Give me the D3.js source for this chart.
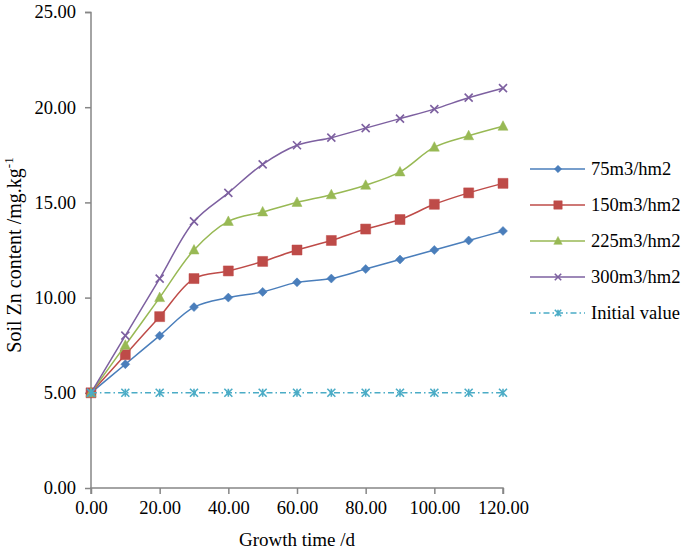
<!DOCTYPE html>
<html><head><meta charset="utf-8">
<script src="https://cdn.jsdelivr.net/npm/d3@7"></script>
<style>body{margin:0;background:#fff}text{font-family:"Liberation Serif","Times New Roman",serif}</style>
</head><body><svg id="c" width="685" height="552"></svg>
<script>
const days = [0,10,20,30,40,50,60,70,80,90,100,110,120];
const s75  = [5,6.5,8,9.5,10,10.3,10.8,11,11.5,12,12.5,13,13.5];
const s150 = [5,7,9,11,11.4,11.9,12.5,13,13.6,14.1,14.9,15.5,16];
const s225 = [5,7.5,10,12.5,14,14.5,15,15.4,15.9,16.6,17.9,18.5,19];
const s300 = [5,8,11,14,15.5,17,18,18.4,18.9,19.4,19.9,20.5,21];
const sInit = [5,5,5,5,5,5,5,5,5,5,5,5,5];
const seriesNames = ["75m3/hm2","150m3/hm2","225m3/hm2","300m3/hm2","Initial value"];
const xTicks = [0,20,40,60,80,100,120];
const yTicks = [0,5,10,15,20,25];

const colors = ["#4A7EBB","#BE4B48","#98B954","#7D60A0","#4BACC6"];
const markers = ["diamond","square","triangle","x","star"];
const allSeries = [s75,s150,s225,s300,sInit];

const svg = d3.select("#c");
const x = d3.scaleLinear().domain([0,120]).range([91,503]);
const y = d3.scaleLinear().domain([0,25]).range([488,12]);
const axisColor = "#868686";

// axes
const gx = svg.append("g").attr("transform","translate(0,488)")
  .call(d3.axisBottom(x).tickValues(xTicks).tickFormat(d3.format(".2f")).tickSize(6).tickPadding(7));
const gy = svg.append("g").attr("transform","translate(91,0)")
  .call(d3.axisLeft(y).tickValues(yTicks).tickFormat(d3.format(".2f")).tickSize(6).tickPadding(9));
[gx,gy].forEach(g=>{
  g.select(".domain").attr("stroke",axisColor).attr("stroke-width",1.5);
  g.selectAll(".tick line").attr("stroke",axisColor).attr("stroke-width",1.5);
  g.selectAll("text").attr("fill","#000").style("font-size","18.5px").style("font-family","Liberation Serif");
});
gy.select(".domain").attr("d","M-6,12.5H0V488");
gx.select(".domain").attr("d","M91,6V0H503V6");

function markerPath(type, s){
  switch(type){
    case "diamond": return `M0,${-s}L${s},0L0,${s}L${-s},0Z`;
    case "square": return `M${-s},${-s}H${s}V${s}H${-s}Z`;
    case "triangle": return `M0,${-s*1.1}L${s},${s*0.8}L${-s},${s*0.8}Z`;
    case "x": return `M${-s},${-s}L${s},${s}M${-s},${s}L${s},${-s}`;
    case "star": return `M${-s},${-s}L${s},${s}M${-s},${s}L${s},${-s}M0,${-s}V${s}`;
  }
}
const msize = [4.5,5,5,4,4];
function drawMarker(g, type, cx, cy, color, s){
  const filled = (type==="diamond"||type==="square"||type==="triangle");
  g.append("path").attr("d",markerPath(type,s)).attr("transform",`translate(${cx},${cy})`)
    .attr("fill",filled?color:"none").attr("stroke",color).attr("stroke-width",filled?0.5:1.6);
}

const line = d3.line().x((d,i)=>x(days[i])).y(d=>y(d)).curve(d3.curveCatmullRom.alpha(0.5));

allSeries.forEach((vals,k)=>{
  const g = svg.append("g");
  g.append("path").attr("d",line(vals)).attr("fill","none").attr("stroke",colors[k])
    .attr("stroke-width",1.5).attr("stroke-dasharray",k===4?"6,3,1.5,3":null);
  vals.forEach((v,i)=>drawMarker(g,markers[k],x(days[i]),y(v),colors[k],msize[k]));
});

// legend
const legY0 = 169, legStep = 36;
seriesNames.forEach((name,k)=>{
  const ly = legY0 + k*legStep;
  const g = svg.append("g");
  g.append("line").attr("x1",530).attr("x2",585).attr("y1",ly).attr("y2",ly)
    .attr("stroke",colors[k]).attr("stroke-width",1.5).attr("stroke-dasharray",k===4?"6,3,1.5,3":null);
  drawMarker(g,markers[k],558,ly,colors[k],msize[k]-0.8);
  g.append("text").attr("x",591).attr("y",ly).attr("dy","0.35em").style("font-size","18.5px").text(name);
});

// axis titles
svg.append("text").attr("x",297).attr("y",546).attr("text-anchor","middle").style("font-size","19px").text("Growth time /d");
const yt = svg.append("text").attr("transform","translate(21,255) rotate(-90)").attr("text-anchor","middle").style("font-size","20px");
yt.append("tspan").text("Soil Zn content /mg.kg");
yt.append("tspan").attr("dy","-8").style("font-size","13px").text("-1");
</script></body></html>
